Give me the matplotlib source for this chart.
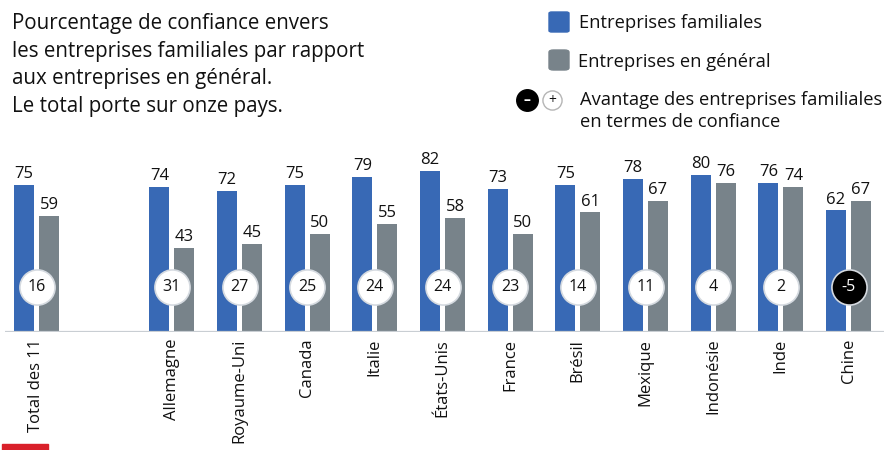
import numpy as np
import matplotlib.pyplot as plt
from matplotlib.patches import FancyBboxPatch, Rectangle

plt.rcParams['font.family'] = ['Open Sans', 'DejaVu Sans']

categories = ["Total des 11", "Allemagne", "Royaume-Uni", "Canada", "Italie",
              "États-Unis", "France", "Brésil", "Mexique", "Indonésie",
              "Inde", "Chine"]
familiales = [75, 74, 72, 75, 79, 82, 73, 75, 78, 80, 76, 62]
general = [59, 43, 45, 50, 55, 58, 50, 61, 67, 76, 74, 67]
avantage = [16, 31, 27, 25, 24, 24, 23, 14, 11, 4, 2, -5]
# groupe "Total" séparé des pays par un espace vide
positions = [0, 2, 3, 4, 5, 6, 7, 8, 9, 10, 11, 12]

BLUE = "#3869b5"
GREY = "#78838a"
TEXT = "#111111"

fig = plt.figure(figsize=(8.84, 4.5), dpi=100)

# axes: ligne de base à y=332 px, un groupe tous les 67.67 px
px_group = 67.67
left_px = 5
x0 = (left_px - 36.5) / px_group
x1 = (884 - 36.5) / px_group
ax = fig.add_axes([left_px / 884, 1 - 332 / 450, 1 - left_px / 884, 202 / 450])
ax.set_xlim(x0, x1)
ax.set_ylim(0, 202 / 1.96)
ax.axis("off")

w = 20 / px_group
off = 12.5 / px_group
pos = np.array(positions, dtype=float)
ax.bar(pos - off, familiales, width=w, color=BLUE, zorder=2)
ax.bar(pos + off, general, width=w, color=GREY, zorder=2)
ax.axhline(0, color="#c9ced3", lw=1.6, zorder=3)

for x, a, b in zip(pos, familiales, general):
    ax.text(x - off, a + 1.5, str(a), ha="center", va="bottom", fontsize=12, color=TEXT)
    ax.text(x + off, b + 1.5, str(b), ha="center", va="bottom", fontsize=12, color=TEXT)

# pastilles d'avantage
circle_y = 23
for x, v in zip(pos, avantage):
    neg = v < 0
    ax.scatter([x], [circle_y], s=640, color="black" if neg else "white",
               edgecolors="#d5dae0", linewidths=1.2, zorder=4)
    ax.text(x, circle_y, str(v), ha="center", va="center", fontsize=11.5,
            color="white" if neg else TEXT, zorder=5)

# étiquettes des catégories
for x, c in zip(pos, categories):
    ax.text(x, -3.5, c, rotation=90, ha="center", va="top", fontsize=12,
            color=TEXT, clip_on=False)

# titre
title = ("Pourcentage de confiance envers\n"
         "les entreprises familiales par rapport\n"
         "aux entreprises en général.\n"
         "Le total porte sur onze pays.")
fig.text(12 / 884, 1 - 13 / 450, title, ha="left", va="top", fontsize=14.8,
         color=TEXT, linespacing=1.41)

# légende
fig.patches.append(FancyBboxPatch((549 / 884, 1 - 32 / 450), 20 / 884, 20 / 450,
                                  boxstyle="round,pad=0,rounding_size=0.003",
                                  transform=fig.transFigure, color=BLUE))
fig.patches.append(FancyBboxPatch((549 / 884, 1 - 70 / 450), 20 / 884, 20 / 450,
                                  boxstyle="round,pad=0,rounding_size=0.005",
                                  transform=fig.transFigure, color=GREY))
fig.text(579 / 884, 1 - 23 / 450, "Entreprises familiales", ha="left",
         va="center", fontsize=13.2, color=TEXT)
fig.text(578 / 884, 1 - 62 / 450, "Entreprises en général", ha="left",
         va="center", fontsize=13.2, color=TEXT)

lax = fig.add_axes([0, 0, 1, 1], zorder=-1)
lax.set_xlim(0, 884)
lax.set_ylim(450, 0)
lax.axis("off")
lax.scatter([527], [100], s=240, color="black", zorder=3)
lax.text(527, 100, "–", ha="center", va="center", fontsize=10, color="white",
         fontweight="bold", zorder=4)
lax.scatter([552], [100], s=190, color="white", edgecolors="#b5b5b5",
            linewidths=1, zorder=3)
lax.text(552, 100, "+", ha="center", va="center", fontsize=10, color=TEXT, zorder=4)
fig.text(580 / 884, 1 - 100 / 450, "Avantage des entreprises familiales",
         ha="left", va="center", fontsize=13.2, color=TEXT)
fig.text(580 / 884, 1 - 122 / 450, "en termes de confiance",
         ha="left", va="center", fontsize=13.2, color=TEXT)

# petit filet rouge en bas à gauche
lax.add_patch(Rectangle((2, 444), 46, 8, color="#d9202a", zorder=3))

fig.savefig("out.png", dpi=100)
